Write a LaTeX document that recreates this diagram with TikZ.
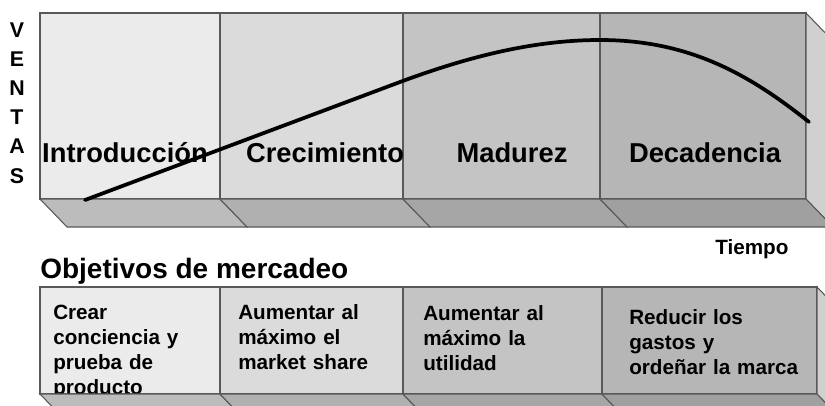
\documentclass[tikz,border=0pt]{standalone}
\usepackage{fontspec}
\setmainfont{Liberation Sans}
\definecolor{frontA}{HTML}{EBEBEB}
\definecolor{frontB}{HTML}{DBDBDB}
\definecolor{frontC}{HTML}{C4C4C4}
\definecolor{frontD}{HTML}{B6B6B6}
\definecolor{floorA}{HTML}{BCBCBC}
\definecolor{floorB}{HTML}{B0B0B0}
\definecolor{floorC}{HTML}{A6A6A6}
\definecolor{floorD}{HTML}{A0A0A0}
\definecolor{sideface}{HTML}{D0D0D0}
\tikzset{
  face/.style={draw=black!65, line width=0.8pt},
  stage/.style={anchor=base, inner sep=0pt, font=\bfseries\fontsize{20.5}{24}\selectfont},
  goal/.style={anchor=base west, inner sep=0pt, text width=140pt, align=left,
    font=\bfseries\fontsize{15.5}{18.8}\selectfont},
  curve/.style={line width=2.8pt, line cap=round}
}
\begin{document}
\begin{tikzpicture}[x=0.75pt,y=-0.75pt]
      \useasboundingbox (0,0) rectangle (825,405);
      \fill[white] (0,0) rectangle (825,405);
      \clip (0,0) rectangle (825,405);
      % etapas: caras frontales, suelo y lado
      \foreach \xa/\xb/\fr in {40/220/frontA, 220/403/frontB, 403/600/frontC, 600/806/frontD} {
        \draw[face,fill=\fr] (\xa,13) rectangle (\xb,199);
      }
      \draw[face,fill=sideface] (806,13) -- (833,41) -- (833,227) -- (806,199) -- cycle;
      \node[stage] (intro) at (125,162) {Introducción};
      \node[stage] (crec) at (325,162) {Crecimiento};
      \node[stage] (madur) at (512,162) {Madurez};
      \node[stage] (decad) at (705,162) {Decadencia};
      \foreach \xa/\xb/\fl in {40/220/floorA, 220/403/floorB, 403/600/floorC, 600/806/floorD} {
        \draw[face,fill=\fl] (\xa,199) -- (\xb,199) -- ({\xb+27},227) -- ({\xa+27},227) -- cycle;
      }
      \draw[curve] (85,200) -- (400,82) .. controls (470,56) and (535,40) .. (600,40)
        .. controls (690,40) and (750,75) .. (809,122);
      \node[anchor=base, inner sep=0pt, text width=16pt, align=center,
        font=\bfseries\fontsize{16}{21.9}\selectfont] (ventas) at (17,37) {V\\E\\N\\T\\A\\S};
      \node[anchor=base west, inner sep=0pt, font=\bfseries\fontsize{15.5}{18}\selectfont]
        (tiempo) at (715,254) {Tiempo};
      \node[anchor=base west, inner sep=0pt, font=\bfseries\fontsize{21}{24}\selectfont]
        (objetivos) at (40,278) {Objetivos de mercadeo};
      % objetivos por etapa
      \foreach \xa/\xb/\fr in {40/220/frontA, 220/403/frontB, 403/602/frontC, 602/817/frontD} {
        \draw[face,fill=\fr] (\xa,287) rectangle (\xb,394);
      }
      \draw[face,fill=sideface] (817,287) -- (844,315) -- (844,422) -- (817,394) -- cycle;
      \node[goal] (goalA) at (53,319) {Crear\\conciencia y\\prueba de\\producto};
      \node[goal] (goalB) at (238,319) {Aumentar al\\máximo el\\market share};
      \node[goal] (goalC) at (423,320) {Aumentar al\\máximo la\\utilidad};
      \node[goal] (goalD) at (629,324) {Reducir los\\gastos y\\ordeñar la marca};
      \foreach \xa/\xb/\fl in {40/220/floorA, 220/403/floorB, 403/602/floorC, 602/817/floorD} {
        \draw[face,fill=\fl] (\xa,394) -- (\xb,394) -- ({\xb+27},422) -- ({\xa+27},422) -- cycle;
      }
\end{tikzpicture}
\end{document}
